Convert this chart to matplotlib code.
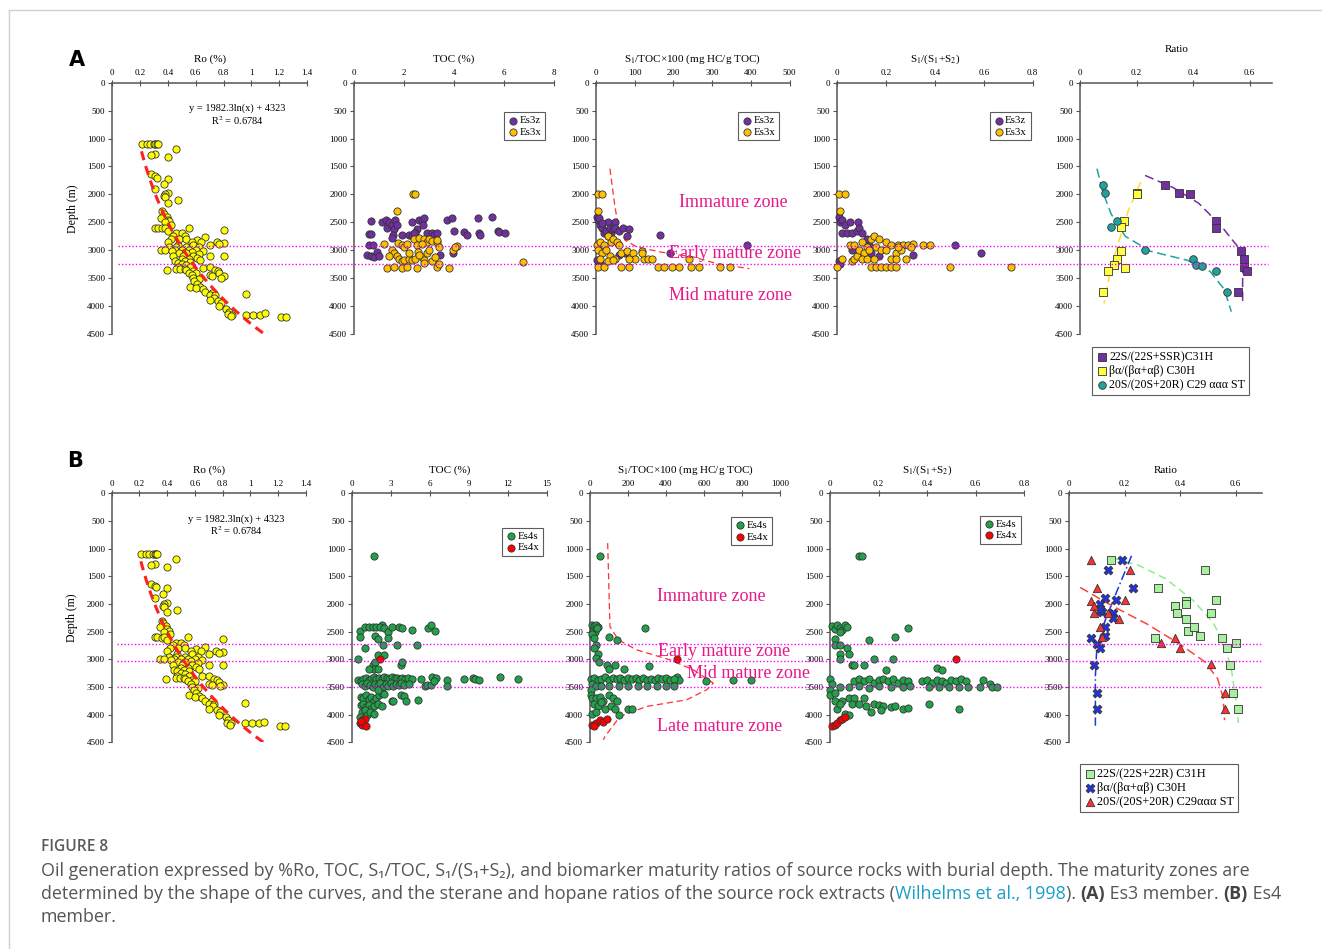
import numpy as np
import matplotlib
matplotlib.use("Agg")
import matplotlib.pyplot as plt
from matplotlib.lines import Line2D
from matplotlib.text import Annotation
from matplotlib.ticker import FuncFormatter

plt.rcParams['font.family'] = ['Liberation Serif', 'DejaVu Serif']
plt.rcParams['mathtext.fontset'] = 'stix'

# ---------------- data (value, depth m) ----------------
# Ro (%) - same samples shown in A and B
ro_pts = [(0.21, 1100), (0.25, 1100), (0.27, 1095), (0.30, 1100), (0.31, 1105), (0.32, 1100), (0.33, 1100),
          (0.46, 1190), (0.31, 1270), (0.28, 1300), (0.40, 1330), (0.28, 1640), (0.31, 1670), (0.32, 1700),
          (0.40, 1720), (0.37, 1820), (0.31, 1900), (0.40, 1980), (0.38, 2000), (0.37, 2030), (0.38, 2050),
          (0.47, 2100), (0.40, 2150), (0.36, 2300), (0.37, 2350), (0.39, 2400), (0.35, 2420), (0.40, 2450),
          (0.41, 2480), (0.38, 2500), (0.42, 2550), (0.31, 2600), (0.33, 2600), (0.36, 2610), (0.38, 2600),
          (0.55, 2600), (0.80, 2630), (0.40, 2650), (0.46, 2700), (0.50, 2700), (0.44, 2750), (0.52, 2750),
          (0.67, 2770), (0.42, 2800), (0.48, 2800), (0.53, 2800), (0.61, 2820), (0.40, 2850), (0.57, 2850),
          (0.64, 2850), (0.75, 2850), (0.80, 2870), (0.77, 2890), (0.47, 2900), (0.58, 2900), (0.70, 2910),
          (0.41, 2950), (0.46, 2950), (0.53, 2950), (0.62, 2950), (0.35, 3000), (0.38, 3000), (0.45, 3000),
          (0.50, 3000), (0.55, 3000), (0.60, 3000), (0.65, 3010), (0.43, 3020), (0.57, 3030), (0.48, 3050),
          (0.53, 3050), (0.62, 3060), (0.44, 3100), (0.51, 3100), (0.58, 3100), (0.70, 3110), (0.80, 3110),
          (0.50, 3150), (0.55, 3150), (0.61, 3140), (0.63, 3170), (0.45, 3200), (0.47, 3220), (0.52, 3200),
          (0.56, 3210), (0.50, 3250), (0.53, 3260), (0.47, 3300), (0.56, 3300), (0.65, 3310), (0.70, 3300),
          (0.46, 3330), (0.49, 3340), (0.52, 3330), (0.39, 3360), (0.53, 3360), (0.74, 3350), (0.76, 3370),
          (0.58, 3380), (0.55, 3400), (0.60, 3400), (0.77, 3410), (0.57, 3450), (0.70, 3450), (0.72, 3460),
          (0.80, 3470), (0.78, 3490), (0.58, 3500), (0.62, 3510), (0.59, 3550), (0.61, 3600), (0.56, 3650),
          (0.63, 3660), (0.60, 3680), (0.65, 3700), (0.67, 3750), (0.72, 3760), (0.96, 3790), (0.70, 3800),
          (0.74, 3810), (0.73, 3850), (0.70, 3900), (0.76, 3910), (0.78, 3950), (0.77, 4000), (0.82, 4050),
          (0.84, 4100), (0.83, 4150), (0.86, 4160), (0.96, 4160), (1.01, 4160), (1.06, 4160), (1.10, 4130),
          (0.85, 4180), (1.21, 4200), (1.25, 4200)]
ro_fit = (1982.3, 4323)          # y = a ln(x) + b, from the chart
ro_fit_range = (0.21, 1.1)

# A: Es3 member
toc_es3z = [(0.65, 2470), (0.6, 2710), (0.65, 2710), (0.6, 2900), (0.75, 2900), (0.5, 3090), (0.65, 3100),
            (0.8, 3120), (0.9, 3030), (1.0, 3100), (1.1, 2500), (1.25, 2450), (1.3, 2600), (1.4, 2500),
            (1.5, 2550), (1.6, 2620), (1.55, 2730), (1.65, 2450), (1.7, 2550), (1.5, 2780), (1.9, 2730),
            (2.2, 2720), (2.3, 2500), (2.5, 2620), (2.45, 2700), (2.6, 2450), (2.7, 2480), (2.8, 2420),
            (2.75, 2550), (2.9, 2700), (3.1, 2700), (3.2, 2720), (3.3, 2700), (3.45, 3080), (3.7, 2450),
            (3.9, 2430), (3.95, 3050), (4.0, 2650), (4.4, 2680), (4.5, 2720), (4.95, 2420), (5.0, 2700),
            (5.05, 2720), (5.5, 2400), (5.75, 2650), (5.8, 2680), (6.05, 2700), (1.6, 3050), (2.3, 2750),
            (2.4, 2700)]
toc_es3x = [(2.35, 2000), (2.45, 2000), (1.7, 2290), (1.2, 2880), (1.75, 2870), (1.9, 2900), (2.0, 2950),
            (2.1, 2890), (2.4, 2800), (2.6, 2780), (2.8, 2800), (2.9, 2850), (3.0, 2800), (3.1, 2830),
            (3.3, 2850), (3.4, 2950), (3.3, 2820), (2.5, 2900), (2.7, 2880), (1.5, 3000), (1.6, 3050),
            (1.7, 3100), (1.8, 3150), (1.9, 3200), (2.0, 3180), (2.2, 3150), (2.3, 3170), (2.45, 3150),
            (2.55, 3030), (2.7, 3120), (2.8, 3180), (2.9, 3050), (3.0, 3000), (3.1, 3200), (3.3, 3300),
            (3.4, 3250), (3.8, 3310), (3.95, 3000), (4.1, 2920), (4.05, 2950), (1.3, 3310), (1.6, 3300),
            (1.9, 3310), (2.1, 3300), (2.5, 3310), (2.8, 3220), (6.75, 3210), (2.2, 3050), (2.6, 3080),
            (1.4, 3100), (3.25, 3120)]
s1toc_es3z = [(2, 2400), (5, 2450), (8, 2420), (10, 2550), (15, 2600), (20, 2700), (25, 2650), (30, 2500),
              (35, 2600), (40, 2700), (45, 2620), (50, 2500), (48, 2600), (60, 2650), (70, 2600), (80, 2750),
              (85, 2620), (165, 2720), (390, 2900), (190, 3050), (60, 3080), (75, 3050), (5, 3200), (10, 3220),
              (3, 3180), (30, 2750), (15, 2520)]
s1toc_es3x = [(5, 2000), (15, 2000), (5, 2300), (3, 2900), (10, 2850), (20, 2900), (30, 2750), (40, 2850),
              (45, 2800), (55, 2850), (60, 2900), (5, 3000), (15, 3050), (25, 3000), (35, 3100), (50, 3150),
              (65, 3050), (80, 3020), (95, 3050), (100, 3150), (120, 3020), (125, 3150), (135, 3150),
              (145, 3150), (160, 3300), (175, 3300), (195, 3300), (215, 3300), (240, 3150), (245, 3300),
              (265, 3300), (320, 3300), (345, 3300), (5, 3300), (20, 3300), (65, 3300), (85, 3300),
              (120, 3050), (10, 3150), (30, 3200), (45, 3180), (85, 3150)]
s1toc_a_curve = [(36, 1540), (49, 2225), (58, 2580), (75, 2820), (105, 2940), (165, 3030), (251, 3120),
                 (312, 3240), (396, 3330)]
s1s2_es3z = [(0.005, 2400), (0.01, 2500), (0.02, 2450), (0.03, 2550), (0.05, 2500), (0.02, 2700),
             (0.04, 2700), (0.06, 2700), (0.08, 2650), (0.085, 2500), (0.09, 2600), (0.1, 2700), (0.12, 2800),
             (0.13, 2900), (0.48, 2900), (0.59, 3050), (0.31, 3080), (0.17, 3100), (0.14, 3050),
             (0.005, 3200), (0.01, 3250), (0.06, 3000), (0.1, 3100)]
s1s2_es3x = [(0.005, 2000), (0.03, 2000), (0.01, 2300), (0.02, 3150), (0.06, 3200), (0.07, 3150),
             (0.08, 3100), (0.05, 2900), (0.07, 2900), (0.1, 2850), (0.12, 2950), (0.14, 2800), (0.15, 2750),
             (0.17, 2800), (0.2, 2850), (0.22, 2900), (0.25, 2900), (0.27, 2900), (0.29, 2900), (0.31, 2880),
             (0.35, 2900), (0.38, 2900), (0.09, 3000), (0.11, 3050), (0.13, 3000), (0.16, 2950), (0.18, 3000),
             (0.2, 3000), (0.24, 3050), (0.26, 3000), (0.1, 3150), (0.12, 3150), (0.15, 3150), (0.22, 3150),
             (0.24, 3150), (0.28, 3150), (0.14, 3300), (0.16, 3300), (0.18, 3300), (0.2, 3300), (0.22, 3300),
             (0.24, 3300), (0.0, 3300), (0.46, 3300), (0.71, 3300), (0.25, 2950), (0.3, 2950)]
ratio_a_c31 = [(0.30, 1840), (0.35, 1970), (0.39, 2000), (0.48, 2480), (0.48, 2600), (0.57, 3020),
               (0.58, 3150), (0.58, 3300), (0.59, 3370), (0.56, 3740)]
ratio_a_c31_fit = [(0.23, 1660), (0.33, 1880), (0.42, 2160), (0.50, 2570), (0.56, 2950), (0.575, 3200),
                   (0.575, 3600), (0.575, 3960)]
ratio_a_c30 = [(0.20, 1970), (0.20, 2000), (0.155, 2470), (0.145, 2580), (0.145, 3010), (0.13, 3150),
               (0.12, 3270), (0.16, 3310), (0.10, 3370), (0.08, 3740)]
ratio_a_c30_fit = [(0.215, 1780), (0.17, 2300), (0.14, 2800), (0.11, 3300), (0.085, 3950)]
ratio_a_c29 = [(0.08, 1840), (0.09, 1980), (0.13, 2470), (0.11, 2580), (0.23, 3000), (0.40, 3150),
               (0.41, 3270), (0.43, 3290), (0.48, 3380), (0.52, 3740)]
ratio_a_c29_fit = [(0.06, 1540), (0.08, 1950), (0.11, 2350), (0.16, 2750), (0.25, 3020), (0.38, 3180),
                   (0.46, 3380), (0.51, 3700), (0.535, 4100)]

# B: Es4 member
toc_es4s = [(1.7, 1140), (0.6, 2490), (0.6, 2600), (1.0, 2420), (1.3, 2420), (1.6, 2420), (1.9, 2420),
            (2.3, 2380), (2.2, 2420), (2.5, 2430), (2.8, 2500), (3.1, 2420), (3.6, 2420), (3.9, 2430),
            (4.6, 2470), (5.9, 2440), (6.1, 2380), (6.4, 2480), (1.8, 2580), (2.0, 2630), (2.8, 2620),
            (2.4, 2750), (3.5, 2750), (5.0, 2750), (1.0, 2800), (0.5, 3000), (2.0, 2920), (2.5, 2920),
            (1.6, 3100), (1.8, 3050), (1.7, 3170), (1.3, 3180), (2.0, 3170), (3.8, 3100), (3.9, 3050),
            (0.5, 3380), (0.7, 3400), (0.9, 3350), (1.1, 3330), (1.3, 3380), (1.5, 3350), (1.7, 3320),
            (1.9, 3360), (2.1, 3330), (2.3, 3350), (2.5, 3320), (2.7, 3340), (2.9, 3360), (3.1, 3320),
            (3.3, 3340), (3.5, 3330), (3.7, 3360), (3.9, 3330), (4.1, 3350), (4.3, 3330), (4.6, 3360),
            (5.3, 3350), (6.2, 3320), (6.5, 3330), (7.3, 3380), (8.6, 3350), (9.3, 3330), (9.5, 3360),
            (9.8, 3380), (11.4, 3320), (12.8, 3350), (0.8, 3450), (1.0, 3480), (1.2, 3420), (1.4, 3460),
            (1.6, 3500), (1.8, 3440), (2.0, 3470), (2.2, 3420), (2.4, 3500), (2.6, 3450), (2.8, 3480),
            (3.0, 3430), (3.2, 3490), (3.4, 3440), (3.6, 3470), (3.8, 3420), (4.0, 3460), (4.4, 3440),
            (5.6, 3480), (5.8, 3470), (6.1, 3460), (7.3, 3480), (6.3, 3400), (0.7, 3680), (0.9, 3700),
            (1.1, 3650), (1.3, 3720), (1.5, 3680), (1.7, 3760), (1.9, 3700), (2.1, 3650), (2.3, 3600),
            (2.5, 3620), (3.1, 3750), (3.2, 3760), (3.8, 3650), (4.0, 3660), (4.2, 3760), (5.1, 3740),
            (2.0, 3550), (0.7, 3820), (0.9, 3800), (1.1, 3860), (1.3, 3820), (1.5, 3900), (1.7, 3850),
            (2.0, 3800), (2.3, 3850), (0.8, 3950), (1.0, 3920), (1.2, 4000), (1.4, 3950), (0.6, 4050),
            (0.9, 4100), (1.7, 3980)]
toc_es4x = [(2.15, 3000), (0.8, 4100), (0.9, 4130), (0.6, 4150), (0.8, 4180), (1.0, 4080), (1.1, 4200),
            (0.7, 4120)]
s1toc_es4s = [(50, 1140), (10, 2380), (20, 2400), (30, 2380), (40, 2420), (15, 2480), (25, 2500), (35, 2440),
              (10, 2550), (20, 2620), (30, 2750), (290, 2430), (100, 2600), (140, 2660), (20, 2800), (40, 2900),
              (30, 2980), (45, 3050), (90, 3100), (130, 3100), (100, 3180), (180, 3180), (310, 3130),
              (610, 3400), (750, 3370), (845, 3370), (460, 3320), (470, 3380), (5, 3350), (20, 3330),
              (40, 3380), (60, 3350), (80, 3320), (100, 3370), (120, 3340), (140, 3360), (160, 3330),
              (180, 3380), (200, 3340), (220, 3360), (240, 3330), (260, 3370), (280, 3340), (300, 3380),
              (320, 3350), (340, 3370), (360, 3340), (380, 3360), (400, 3330), (420, 3380), (440, 3350),
              (10, 3450), (30, 3480), (60, 3490), (100, 3480), (150, 3490), (200, 3480), (250, 3490),
              (300, 3480), (350, 3490), (400, 3480), (440, 3490), (5, 3550), (5, 3650), (10, 3700), (30, 3700),
              (50, 3680), (70, 3750), (100, 3650), (120, 3700), (140, 3750), (20, 3800), (40, 3850), (60, 3780),
              (80, 3900), (110, 3850), (130, 3900), (150, 4000), (200, 3890), (220, 3900), (10, 3980),
              (30, 3950)]
s1toc_es4x = [(460, 3000), (10, 4180), (30, 4150), (50, 4100), (70, 4130), (90, 4080), (20, 4200)]
s1toc_b_curve = [(93, 900), (105, 2408), (149, 2649), (246, 2830), (421, 3010), (544, 3190), (649, 3431),
                 (614, 3551), (509, 3732), (298, 3852), (158, 4033), (79, 4394), (70, 4455)]
s1s2_es4s = [(0.12, 1140), (0.13, 1140), (0.01, 2400), (0.02, 2450), (0.03, 2380), (0.04, 2430), (0.05, 2470),
             (0.06, 2380), (0.07, 2420), (0.02, 2630), (0.04, 2500), (0.32, 2430), (0.27, 2600), (0.16, 2650),
             (0.02, 2750), (0.04, 2750), (0.07, 2800), (0.08, 2900), (0.04, 2900), (0.04, 3000), (0.09, 3100),
             (0.10, 3100), (0.14, 3100), (0.18, 3000), (0.26, 3000), (0.23, 3200), (0.44, 3150), (0.46, 3200),
             (0.0, 3350), (0.01, 3450), (0.0, 3550), (0.0, 3650), (0.10, 3400), (0.12, 3350), (0.14, 3400),
             (0.16, 3360), (0.18, 3420), (0.20, 3380), (0.22, 3350), (0.24, 3400), (0.26, 3360), (0.28, 3420),
             (0.30, 3380), (0.32, 3400), (0.38, 3400), (0.40, 3380), (0.42, 3420), (0.44, 3380), (0.46, 3400),
             (0.48, 3420), (0.50, 3380), (0.52, 3400), (0.54, 3350), (0.56, 3400), (0.63, 3380), (0.66, 3450),
             (0.04, 3500), (0.08, 3500), (0.12, 3480), (0.16, 3520), (0.20, 3490), (0.25, 3500), (0.30, 3500),
             (0.33, 3480), (0.41, 3500), (0.45, 3500), (0.49, 3500), (0.53, 3500), (0.57, 3500), (0.62, 3500),
             (0.67, 3500), (0.69, 3500), (0.02, 3750), (0.05, 3750), (0.08, 3700), (0.10, 3700), (0.14, 3700),
             (0.09, 3800), (0.12, 3800), (0.15, 3850), (0.18, 3800), (0.20, 3820), (0.22, 3850), (0.25, 3870),
             (0.27, 3850), (0.30, 3900), (0.32, 3880), (0.17, 3950), (0.21, 3920), (0.41, 3800), (0.53, 3900),
             (0.03, 3900), (0.06, 3980), (0.08, 4000), (0.02, 3600), (0.04, 3800)]
s1s2_es4x = [(0.52, 3000), (0.01, 4200), (0.02, 4180), (0.03, 4150), (0.04, 4100), (0.05, 4080), (0.06, 4050)]
ratio_b_c31 = [(0.15, 1200), (0.49, 1380), (0.32, 1720), (0.53, 1930), (0.38, 2030), (0.42, 1950), (0.42, 2000),
               (0.39, 2170), (0.51, 2170), (0.42, 2280), (0.43, 2480), (0.45, 2420), (0.47, 2580), (0.31, 2620),
               (0.55, 2620), (0.60, 2700), (0.57, 2800), (0.58, 3100), (0.59, 3600), (0.61, 3900)]
ratio_b_c31_fit = [(0.16, 1170), (0.25, 1300), (0.35, 1550), (0.45, 1950), (0.52, 2350), (0.56, 2750),
                   (0.585, 3200), (0.60, 3700), (0.61, 4150)]
ratio_b_c30 = [(0.19, 1200), (0.14, 1380), (0.23, 1720), (0.13, 1900), (0.17, 1930), (0.11, 2000), (0.12, 2150),
               (0.16, 2170), (0.16, 2250), (0.13, 2420), (0.13, 2580), (0.08, 2620), (0.10, 2720), (0.11, 2800),
               (0.09, 3100), (0.10, 3600), (0.10, 3900), (0.11, 2100)]
ratio_b_c30_fit = [(0.225, 1130), (0.17, 1800), (0.13, 2300), (0.10, 2800), (0.095, 3300), (0.095, 3800),
                   (0.095, 4200)]
ratio_b_c29 = [(0.08, 1200), (0.22, 1380), (0.10, 1720), (0.08, 1940), (0.09, 2030), (0.20, 1920), (0.09, 2170),
               (0.14, 2170), (0.18, 2270), (0.11, 2420), (0.12, 2600), (0.33, 2700), (0.38, 2620), (0.40, 2800),
               (0.51, 3080), (0.56, 3600), (0.56, 3900)]
ratio_b_c29_fit = [(0.04, 1700), (0.15, 2020), (0.28, 2360), (0.40, 2730), (0.49, 3050), (0.535, 3350),
                   (0.555, 3700), (0.56, 4100)]

zones_a = [2920, 3245]
zones_b = [2730, 3025, 3500]

# ---------------- figure ----------------
W, H = 1322, 949
fig = plt.figure(figsize=(W / 100, H / 100), dpi=100)
fig.patch.set_facecolor('white')

PINK = '#e8168a'
EDGE = '#333333'


def px_rect(x0, x1, ytop, ybot):
    return [x0 / W, 1 - ybot / H, (x1 - x0) / W, (ybot - ytop) / H]


def style_axis(ax, xmax, xticks, xlabel):
    ax.set_xlim(0, xmax)
    ax.set_ylim(4500, 0)
    ax.set_yticks(range(0, 4501, 500))
    ax.set_xticks(xticks)
    ax.xaxis.set_major_formatter(FuncFormatter(lambda v, p: f'{v:g}'))
    ax.xaxis.tick_top()
    ax.xaxis.set_label_position('top')
    ax.set_xlabel(xlabel, fontsize=8, labelpad=5)
    for s in ['right', 'bottom']:
        ax.spines[s].set_visible(False)
    for s in ['left', 'top']:
        ax.spines[s].set_color('#555555')
        ax.spines[s].set_linewidth(1.1)
    ax.tick_params(axis='x', direction='inout', length=4, width=0.8, color='#555555',
                   labelsize=6.5, pad=2)
    ax.tick_params(axis='y', direction='out', length=3, width=0.8, color='#555555',
                   labelsize=6.5, pad=2)
    ax.set_facecolor('none')


def scatter(ax, pts, color, marker='o', s=27, label=None, lw=0.6, ec=EDGE):
    arr = np.array(pts, dtype=float)
    ax.scatter(arr[:, 0], arr[:, 1], s=s, c=color, marker=marker, edgecolors=ec,
               linewidths=lw, label=label, zorder=3, clip_on=False)


def curve(ax, pts, color, ls='--', lw=1.0):
    arr = np.array(pts, dtype=float)
    ax.plot(arr[:, 0], arr[:, 1], ls=ls, color=color, lw=lw, zorder=2)


def small_legend(ax, anchor, loc='upper right', fs=7.8):
    leg = ax.legend(loc=loc, bbox_to_anchor=anchor, fontsize=fs, frameon=True, fancybox=False,
                    handletextpad=0.05, borderpad=0.35, labelspacing=0.15, handlelength=1.0,
                    borderaxespad=0)
    leg.get_frame().set_edgecolor('#333333')
    leg.get_frame().set_linewidth(0.8)
    return leg


def ro_panel(ax):
    style_axis(ax, 1.4, np.arange(0, 1.41, 0.2), 'Ro (%)')
    scatter(ax, ro_pts, '#ffff00')
    a, b = ro_fit
    xs = np.linspace(ro_fit_range[0], ro_fit_range[1], 50)
    ax.plot(xs, a * np.log(xs) + b, ls=(0, (3, 2)), color='#ff2020', lw=2.2, zorder=4)
    ax.text(0.64, 0.87, 'y = 1982.3ln(x) + 4323\nR$^2$ = 0.6784', transform=ax.transAxes,
            ha='center', va='center', fontsize=7.5, linespacing=1.05)
    ax.set_ylabel('Depth (m)', fontsize=8.5, labelpad=6)


def zone_lines(depths, ax_ref, x0, x1):
    for d in depths:
        y = ax_ref.transData.transform((0, d))[1] / H
        fig.add_artist(Line2D([x0 / W, x1 / W], [y, y], transform=fig.transFigure,
                              color='#ff00ff', lw=1.0, ls=(0, (1, 1.5)), zorder=1))


# ---------- row A ----------
ta, ba = 82.7, 334
axA1 = fig.add_axes(px_rect(112.3, 307, ta, ba))
axA2 = fig.add_axes(px_rect(354.3, 554, ta, ba))
axA3 = fig.add_axes(px_rect(596, 789.7, ta, ba))
axA4 = fig.add_axes(px_rect(837.3, 1032.7, ta, ba))
axA5 = fig.add_axes(px_rect(1080, 1080 + 0.68 / 0.6 * 169.7, ta, ba))

ro_panel(axA1)

style_axis(axA2, 8, range(0, 9, 2), 'TOC (%)')
scatter(axA2, toc_es3z, '#7030a0', label='Es3z')
scatter(axA2, toc_es3x, '#ffc000', label='Es3x')
small_legend(axA2, (0.955, 0.883))

style_axis(axA3, 500, range(0, 501, 100), r'S$_1$/TOC×100 (mg HC/g TOC)')
scatter(axA3, s1toc_es3z, '#7030a0', label='Es3z')
scatter(axA3, s1toc_es3x, '#ffc000', label='Es3x')
curve(axA3, s1toc_a_curve, '#ff3030', ls=(0, (5, 3)), lw=0.9)
small_legend(axA3, (0.945, 0.883))
for txt, x, d in [('Immature zone', 355, 2145), ('Early mature zone', 359, 3060),
                  ('Mid mature zone', 346, 3810)]:
    axA3.text(x, d, txt, color=PINK, fontsize=13, ha='center', va='center', clip_on=False, zorder=5)

style_axis(axA4, 0.8, np.arange(0, 0.81, 0.2), r'S$_1$/(S$_1$+S$_2$)')
scatter(axA4, s1s2_es3z, '#7030a0', label='Es3z')
scatter(axA4, s1s2_es3x, '#ffc000', label='Es3x')
small_legend(axA4, (0.99, 0.883))

style_axis(axA5, 0.68, np.arange(0, 0.61, 0.2), 'Ratio')
axA5.xaxis.labelpad = 12
curve(axA5, ratio_a_c31_fit, '#7030a0', ls=(0, (6, 3)), lw=1.1)
curve(axA5, ratio_a_c30_fit, '#ffe020', ls=(0, (6, 3)), lw=1.1)
curve(axA5, ratio_a_c29_fit, '#20a39e', ls=(0, (6, 3)), lw=1.1)
scatter(axA5, ratio_a_c31, '#7030a0', marker='s', s=30, label='22S/(22S+SSR)C31H')
scatter(axA5, ratio_a_c30, '#ffff40', marker='s', s=30, label='βα/(βα+αβ) C30H')
scatter(axA5, ratio_a_c29, '#20a39e', marker='o', s=30, label='20S/(20S+20R) C29 ααα ST')
small_legend(axA5, (0.064, -0.052), loc='upper left', fs=8.6)

zone_lines(zones_a, axA1, 118, 1268)

# ---------- row B ----------
tb, bb = 493.3, 742.3
axB1 = fig.add_axes(px_rect(111.7, 306, tb, bb))
axB2 = fig.add_axes(px_rect(351.7, 546.7, tb, bb))
axB3 = fig.add_axes(px_rect(590, 780, tb, bb))
axB4 = fig.add_axes(px_rect(830, 1024, tb, bb))
axB5 = fig.add_axes(px_rect(1069, 1069 + 0.695 / 0.6 * 166.7, tb, bb))

ro_panel(axB1)

style_axis(axB2, 15, range(0, 16, 3), 'TOC (%)')
scatter(axB2, toc_es4s, '#22a04b', label='Es4s')
scatter(axB2, toc_es4x, '#ff0000', label='Es4x')
small_legend(axB2, (0.981, 0.861))

style_axis(axB3, 1000, range(0, 1001, 200), r'S$_1$/TOC×100 (mg HC/g TOC)')
scatter(axB3, s1toc_es4s, '#22a04b', label='Es4s')
scatter(axB3, s1toc_es4x, '#ff0000', label='Es4x')
curve(axB3, s1toc_b_curve, '#ff3030', ls=(0, (5, 3)), lw=0.9)
small_legend(axB3, (0.958, 0.905))
for txt, x, d in [('Immature zone', 640, 1866), ('Early mature zone', 707, 2860),
                  ('Mid mature zone', 833, 3263), ('Late mature zone', 681, 4214)]:
    axB3.text(x, d, txt, color=PINK, fontsize=13, ha='center', va='center', clip_on=False, zorder=5)

style_axis(axB4, 0.8, np.arange(0, 0.81, 0.2), r'S$_1$/(S$_1$+S$_2$)')
scatter(axB4, s1s2_es4s, '#22a04b', label='Es4s')
scatter(axB4, s1s2_es4x, '#ff0000', label='Es4x')
small_legend(axB4, (0.985, 0.91))

style_axis(axB5, 0.695, np.arange(0, 0.61, 0.2), 'Ratio')
curve(axB5, ratio_b_c31_fit, '#90ee90', ls=(0, (5, 3)), lw=1.1)
curve(axB5, ratio_b_c30_fit, '#2233dd', ls=(0, (6, 2, 1, 2)), lw=1.1)
curve(axB5, ratio_b_c29_fit, '#ff4040', ls=(0, (6, 3)), lw=1.1)
scatter(axB5, ratio_b_c31, '#a8f0a0', marker='s', s=30, label='22S/(22S+22R) C31H')
scatter(axB5, ratio_b_c30, '#2233dd', marker='X', s=40, label='βα/(βα+αβ) C30H')
scatter(axB5, ratio_b_c29, '#ff3030', marker='^', s=36, label='20S/(20S+20R) C29ααα ST')
small_legend(axB5, (0.057, -0.087), loc='upper left', fs=8.8)

zone_lines(zones_b, axB1, 117, 1262)

# panel letters
fig.text(69 / W, 1 - 60 / H, 'A', fontsize=15, fontweight='bold', family='DejaVu Sans', va='center')
fig.text(67 / W, 1 - 461 / H, 'B', fontsize=15, fontweight='bold', family='DejaVu Sans', va='center')

# page frame
fig.add_artist(Line2D([9 / W, 1], [1 - 10 / H, 1 - 10 / H], transform=fig.transFigure, color='#d0d0d0', lw=1))
fig.add_artist(Line2D([9 / W, 9 / W], [0, 1 - 10 / H], transform=fig.transFigure, color='#d0d0d0', lw=1))

# ---------- caption ----------
CAP = ['Open Sans', 'DejaVu Sans']
GREY = '#555555'
fig.text(41 / W, 1 - 851 / H, 'FIGURE 8', fontsize=11.2, fontweight='semibold', family=CAP,
         color='#5a5a5a', va='baseline')


def caption_line(pieces, ypx):
    y = 1 - ypx / H
    prev = None
    for txt, color, weight in pieces:
        kw = dict(fontsize=12.9, family=CAP, color=color, fontweight=weight, va='baseline', ha='left')
        if prev is None:
            prev = fig.text(41 / W, y, txt, **kw)
        else:
            a = Annotation(txt, xy=(1, y), xycoords=(prev, 'figure fraction'), **kw)
            fig.add_artist(a)
            prev = a


caption_line([('Oil generation expressed by %Ro, TOC, S\u2081/TOC, S\u2081/(S\u2081+S\u2082), and biomarker maturity '
               'ratios of source rocks with burial depth. The maturity zones are', GREY, 'normal')], 876)
caption_line([('determined by the shape of the curves, and the sterane and hopane ratios of the source rock '
               'extracts (', GREY, 'normal'), ('Wilhelms et al., 1998', '#1a9fc6', 'normal'),
              ('). ', GREY, 'normal'), ('(A)', '#444444', 'bold'), (' Es3 member. ', GREY, 'normal'),
              ('(B)', '#444444', 'bold'), (' Es4', GREY, 'normal')], 899)
caption_line([('member.', GREY, 'normal')], 922)

fig.savefig('out.png', dpi=100, facecolor='white')
